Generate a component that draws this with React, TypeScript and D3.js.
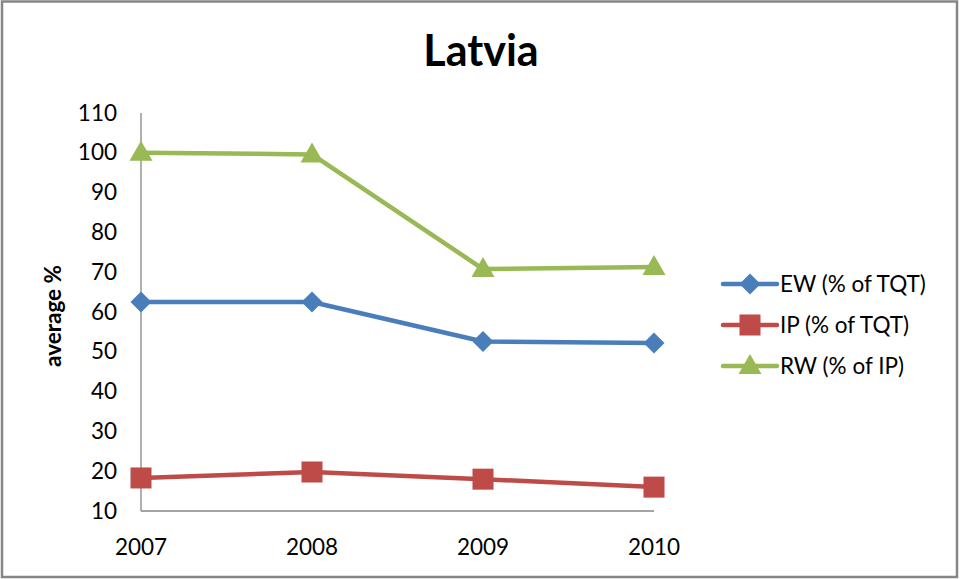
import React from "react";
import * as d3 from "d3";

const years = ["2007", "2008", "2009", "2010"];
const ewValues = [62.5, 62.5, 52.6, 52.2];
const ipValues = [18.3, 19.8, 18.0, 16.0];
const rwValues = [100.0, 99.6, 70.8, 71.3];
const yTicks = [10, 20, 30, 40, 50, 60, 70, 80, 90, 100, 110];
const seriesNames = ["EW (% of TQT)", "IP (% of TQT)", "RW (% of IP)"];
const seriesColors = ["#4A7EBB", "#BE4B48", "#98B954"];

const W = 962;
const H = 579;
const FONT = "Lato, 'Open Sans', sans-serif";

function Marker({ kind, x, y, color }: { kind: number; x: number; y: number; color: string }) {
  if (kind === 0) {
    const s = 10.5;
    return <path d={`M${x},${y - s}L${x + s},${y}L${x},${y + s}L${x - s},${y}Z`} fill={color} />;
  }
  if (kind === 1) {
    const s = 10.5;
    return <rect x={x - s} y={y - s} width={2 * s} height={2 * s} fill={color} />;
  }
  const w = 11.5;
  return <path d={`M${x},${y - 12}L${x + w},${y + 8}L${x - w},${y + 8}Z`} fill={color} />;
}

export default function App() {
  const x = d3.scalePoint<string>().domain(years).range([141, 654]);
  const y = d3.scaleLinear().domain([10, 110]).range([511, 113]);
  const data = [ewValues, ipValues, rwValues];
  const line = d3
    .line<number>()
    .x((_, i) => x(years[i]) as number)
    .y((d) => y(d));

  return (
    <svg width={W} height={H} style={{ position: "absolute", left: 0, top: 0 }}>
      <rect x={0} y={0} width={W} height={H} fill="#fff" />
      <rect x={2} y={1.5} width={955} height={575.5} fill="#fff" stroke="#868686" strokeWidth={2.5} />
      <text x={481} y={66} textAnchor="middle" fontFamily={FONT} fontWeight="bold" fontSize={43} fill="#000">
        Latvia
      </text>
      {/* axes */}
      <line x1={141} x2={141} y1={y(110)} y2={y(10)} stroke="#868686" strokeWidth={1.3} />
      <line x1={141} x2={654} y1={y(10)} y2={y(10)} stroke="#868686" strokeWidth={1.3} />
      {yTicks.map((t) => (
        <text key={t} x={117} y={y(t) + 7.5} textAnchor="end" fontFamily={FONT} fontSize={22.5} fill="#000">
          {t}
        </text>
      ))}
      {years.map((yr) => (
        <text key={yr} x={x(yr)} y={555} textAnchor="middle" fontFamily={FONT} fontSize={22.5} fill="#000">
          {yr}
        </text>
      ))}
      <text
        transform={`translate(61,316) rotate(-90)`}
        textAnchor="middle"
        fontFamily={FONT}
        fontWeight="bold"
        fontSize={22.5}
        fill="#000"
      >
        average %
      </text>
      {data.map((vals, si) => (
        <g key={si}>
          <path d={line(vals) || ""} fill="none" stroke={seriesColors[si]} strokeWidth={4.5} strokeLinejoin="round" />
          {vals.map((v, i) => (
            <Marker key={i} kind={si} x={x(years[i]) as number} y={y(v)} color={seriesColors[si]} />
          ))}
        </g>
      ))}
      {seriesNames.map((name, si) => {
        const ly = 284 + si * 41;
        return (
          <g key={name}>
            <line x1={723} x2={777} y1={ly} y2={ly} stroke={seriesColors[si]} strokeWidth={4.5} strokeLinecap="round" />
            <Marker kind={si} x={750} y={ly} color={seriesColors[si]} />
            <text x={780} y={ly + 8} fontFamily={FONT} fontSize={22.5} fill="#000">
              {name}
            </text>
          </g>
        );
      })}
    </svg>
  );
}
